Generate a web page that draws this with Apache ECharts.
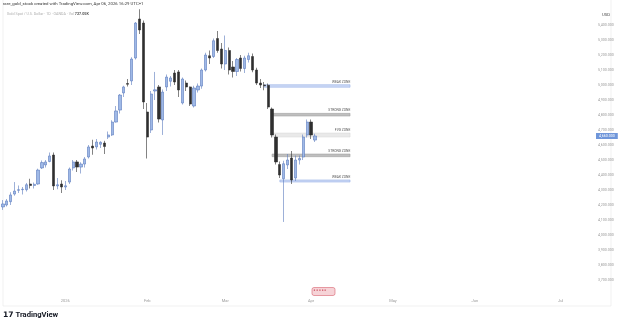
<!DOCTYPE html>
<html>
<head>
<meta charset="utf-8">
<script src="https://cdn.jsdelivr.net/npm/echarts@6/dist/echarts.min.js"></script>
<style>
html, body { margin: 0; padding: 0; background: #fff; }
#chart { width: 625px; height: 326px; }
</style>
</head>
<body>
<div id="chart"></div>
<script>
// trading days shown on the time scale (weekdays, minus closed days)
var firstDay = '2025-12-09';
var lastDay = '2026-07-09';
var holidays = ['2025-12-25', '2026-01-01', '2026-04-03'];
var monthNames = ['2026', 'Feb', 'Mar', 'Apr', 'May', 'Jun', 'Jul', 'Aug', 'Sep', 'Oct', 'Nov', 'Dec'];

// daily candles, Dec 9 2025 -> Apr 2 2026
var opens = [4187, 4200, 4222, 4273, 4298, 4302, 4302, 4340, 4330, 4340, 4447, 4467, 4490, 4533, 4327, 4340,
  4320, 4353, 4447, 4487, 4453, 4473, 4520, 4593, 4587, 4605, 4613, 4653, 4667, 4753, 4833, 4947, 5010, 5027, 5180, 5440, 5413,
  4820, 4700, 4960, 4987, 4767, 4987, 5025, 5080, 5087, 4880, 5013, 4987, 4860, 4967, 4993, 5100, 5195, 5190, 5310, 5240,
  5140, 5230, 5120, 5090, 5180, 5110, 5170, 5190, 5100, 5013, 5000, 4998, 4840, 4653, 4470, 4375, 4467, 4513, 4380, 4500, 4520, 4667,
  4753, 4633];
var closes = [4207, 4227, 4267, 4293, 4302, 4305, 4335, 4330, 4338, 4433, 4483, 4487, 4527, 4327, 4335, 4320,
  4328, 4440, 4487, 4453, 4473, 4507, 4587, 4580, 4620, 4618, 4590, 4667, 4753, 4827, 4933, 4987, 5005, 5173, 5413, 5367, 4887,
  4653, 4940, 4968, 4773, 4953, 5053, 5047, 5020, 4967, 5040, 4987, 4873, 4980, 4993, 5100, 5200, 5180, 5295, 5230, 5140,
  5230, 5100, 5090, 5170, 5110, 5180, 5195, 5100, 5013, 5000, 4995, 4853, 4667, 4487, 4400, 4475, 4500, 4367, 4500, 4510, 4653, 4753,
  4667, 4660];
var lows = [4167, 4190, 4200, 4262, 4280, 4270, 4290, 4310, 4310, 4335, 4440, 4450, 4485, 4300, 4305, 4280,
  4300, 4340, 4430, 4420, 4410, 4450, 4510, 4535, 4570, 4580, 4540, 4640, 4660, 4750, 4810, 4920, 4990, 5000, 5170, 5340, 4840,
  4510, 4680, 4900, 4750, 4667, 4960, 4990, 5000, 4920, 4870, 4960, 4860, 4850, 4950, 4975, 5090, 5140, 5180, 5215, 5110,
  5100, 5070, 5050, 5060, 5090, 5080, 5150, 5085, 5000, 4980, 4965, 4840, 4650, 4470, 4380, 4087, 4440, 4340, 4360, 4470, 4500, 4650,
  4640, 4620];
var highs = [4233, 4240, 4285, 4353, 4330, 4320, 4347, 4375, 4350, 4442, 4497, 4500, 4550, 4550, 4380, 4365,
  4360, 4450, 4500, 4500, 4485, 4520, 4600, 4635, 4640, 4625, 4628, 4690, 4765, 4860, 4940, 4995, 5040, 5185, 5420, 5505, 5430,
  4880, 4960, 5087, 5000, 4970, 5070, 5060, 5100, 5100, 5050, 5030, 4990, 4995, 5010, 5110, 5215, 5230, 5310, 5360, 5280,
  5330, 5250, 5160, 5180, 5200, 5195, 5215, 5210, 5115, 5040, 5020, 5010, 4850, 4670, 4490, 4495, 4540, 4560, 4530, 4530, 4670, 4770,
  4770, 4675];

// drawn zones
var zoneNames = ['WEAK ZONE', 'STRONG ZONE', 'FVG ZONE', 'STRONG ZONE', 'WEAK ZONE'];
var zoneKinds = ['weak', 'strong', 'fvg', 'strong', 'weak'];
var zoneStart = ['2026-03-16', '2026-03-18', '2026-03-18', '2026-03-18', '2026-03-20'];
var zoneEnd = '2026-04-16';
var zoneTop = [5002, 4811, 4680, 4540, 4367];
var zoneBottom = [4985, 4793, 4653, 4522, 4353];

function pad(n) { return (n < 10 ? '0' : '') + n; }
function ymd(d) { return d.getUTCFullYear() + '-' + pad(d.getUTCMonth() + 1) + '-' + pad(d.getUTCDate()); }

var dates = [];
var d = new Date(firstDay + 'T00:00:00Z');
var end = new Date(lastDay + 'T00:00:00Z');
while (d <= end) {
  var wd = d.getUTCDay();
  var s = ymd(d);
  if (wd !== 0 && wd !== 6 && holidays.indexOf(s) < 0) dates.push(s);
  d = new Date(d.getTime() + 86400000);
}
// first trading day of each month gets a label
var monthStart = dates.map(function (s, i) {
  return i > 0 && s.slice(5, 7) !== dates[i - 1].slice(5, 7);
});

var candles = opens.map(function (o, i) { return [o, closes[i], lows[i], highs[i]]; });
var lastClose = closes[closes.length - 1];

function fmtPrice(v) {
  var s = v.toFixed(3).split('.');
  return s[0].replace(/\B(?=(\d{3})+(?!\d))/g, ',') + '.' + s[1];
}

var zoneStyles = {
  weak: { color: 'rgba(160,184,236,0.55)', borderColor: '#8ea8e2', borderWidth: 0.5 },
  strong: { color: 'rgba(170,170,170,0.75)', borderColor: '#9a9a9a', borderWidth: 0.5 },
  fvg: { color: 'rgba(215,215,215,0.55)', borderColor: '#d0d0d0', borderWidth: 0.4 }
};

var font = 'Roboto, sans-serif';
var chart = echarts.init(document.getElementById('chart'));

option = {
  backgroundColor: '#ffffff',
  animation: false,
  grid: { left: 1, right: 39, top: 0, bottom: 31 },
  xAxis: {
    type: 'category',
    data: dates,
    boundaryGap: true,
    axisLine: { show: false },
    axisTick: { show: false },
    splitLine: { show: false },
    axisLabel: {
      interval: function (i) { return monthStart[i]; },
      formatter: function (v) { return monthNames[parseInt(v.slice(5, 7), 10) - 1]; },
      fontSize: 4,
      color: '#9a9a9a',
      fontFamily: font,
      margin: 4
    }
  },
  yAxis: {
    type: 'value',
    position: 'right',
    min: 3600,
    max: 5566.67,
    interval: 100,
    scale: true,
    axisLine: { show: false },
    axisTick: { show: false },
    splitLine: { show: false },
    axisLabel: {
      fontSize: 3.6,
      color: '#9a9a9a',
      fontFamily: font,
      margin: 12,
      formatter: function (v) { return (v < 3700 || v > 5400) ? '' : fmtPrice(v); }
    }
  },
  graphic: [
    { type: 'rect', z: -1, silent: true,
      shape: { x: 3, y: -1, width: 608, height: 307 },
      style: { fill: 'none', stroke: '#e8e8e8', lineWidth: 0.6 } },
    { type: 'text', left: 3, top: 2,
      style: { text: 'rare_gold_stock created with TradingView.com, Apr 06, 2026 16:29 UTC+1',
        fontSize: 4.3, fill: '#333', fontFamily: font } },
    { type: 'text', left: 7, top: 12.5,
      style: { text: 'Gold Spot / U.S. Dollar · 1D · OANDA · Vol {b|727.05K}',
        fontSize: 3.7, fill: '#b0b0b0', fontFamily: font,
        rich: { b: { fontSize: 3.7, fill: '#555', fontWeight: 'bold', fontFamily: font } } } },
    { type: 'text', left: 602, top: 13,
      style: { text: 'USD', fontSize: 4.2, fill: '#444', fontFamily: font } },
    { type: 'rect', silent: true,
      shape: { x: 312, y: 287.5, width: 23, height: 8, r: 2 },
      style: { fill: '#f6d3d7', stroke: '#d9616f', lineWidth: 0.6 } },
    { type: 'text', left: 313.5, top: 289,
      style: { text: '● ● ● ● ●', fontSize: 3.2, fill: '#c94a5a', fontFamily: font } },
    { type: 'text', left: 3, top: 311,
      style: { text: '{l|17} TradingView', fontSize: 7.6, fill: '#131722', fontWeight: 'bold', fontFamily: font,
        rich: { l: { fontSize: 7.6, fontWeight: 900, fill: '#131722', fontFamily: 'DejaVu Sans' } } } }
  ],
  series: [{
    type: 'candlestick',
    data: candles,
    barWidth: '70%',
    itemStyle: {
      color: '#9fb9e7',
      color0: '#2f2f2f',
      borderColor: '#5b7bbd',
      borderColor0: '#2f2f2f',
      borderWidth: 0.6
    },
    markArea: {
      silent: true,
      data: zoneNames.map(function (n, i) {
        return [
          { name: n, xAxis: zoneStart[i], yAxis: zoneTop[i], itemStyle: zoneStyles[zoneKinds[i]],
            label: { show: true, position: ['100%', -1], align: 'right', verticalAlign: 'bottom',
              fontSize: 3.3, color: '#555', fontFamily: font } },
          { xAxis: zoneEnd, yAxis: zoneBottom[i] }
        ];
      })
    },
    markLine: {
      silent: true,
      symbol: 'none',
      lineStyle: { color: 'rgba(0,0,0,0)', width: 0.5 },
      data: [{ yAxis: lastClose }],
      label: {
        show: true,
        position: 'end',
        distance: 10,
        formatter: function () { return fmtPrice(lastClose); },
        backgroundColor: '#6f96da',
        color: '#fff',
        fontSize: 3.6,
        fontFamily: font,
        padding: [1, 3]
      }
    }
  }]
};

chart.setOption(option);
</script>
</body>
</html>
